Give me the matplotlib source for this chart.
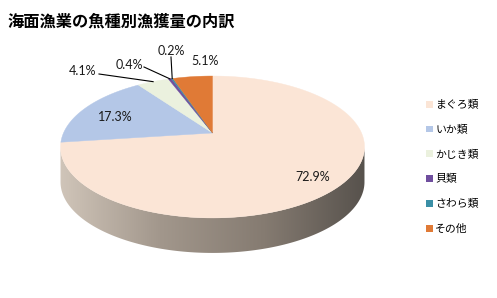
import matplotlib.pyplot as plt
import numpy as np
from matplotlib.patches import Polygon, Patch
from matplotlib.colors import LinearSegmentedColormap

# 海面漁業の魚種別漁獲量の内訳 (%)
categories = ["まぐろ類", "いか類", "かじき類", "貝類", "さわら類", "その他"]
shares = [72.9, 17.3, 4.1, 0.4, 0.2, 5.1]
labels = ["72.9%", "17.3%", "4.1%", "0.4%", "0.2%", "5.1%"]
colors = ["#fbe5d6", "#b4c7e7", "#ebf1de", "#6f4e9e", "#3a8fa6", "#e07a36"]

# layout of the 3D pie in pixels, with a little perspective (k)
cx, cy, A, B, k, depth = 212.5, 133, 149, 68.2, 0.197, 35
label_pos = [(313, 177), (115, 117), (83, 71), (129, 65), (171, 51), (205, 61)]
leader_start = [None, None, (99, 74), (144, 67), (171, 57), None]

plt.rcParams['font.family'] = ['Noto Sans CJK JP', 'DejaVu Sans']

fig = plt.figure(figsize=(4.97, 2.98), dpi=100)
ax = fig.add_axes([0, 0, 1, 1])


def pt(theta, dy=0.0, r=1.0):
    # angle clockwise from 12 o'clock -> pixel position on the tilted disc
    X, Z = r * np.sin(theta), r * np.cos(theta)
    w = 1 + k * Z
    return (cx + A * X / w, cy - B * Z / w + dy)


# side of the cylinder (visible front part), shaded gradient
th = np.linspace(np.arccos(-k), 2 * np.pi - np.arccos(-k), 200)
top = [pt(t) for t in th]
bot = [pt(t, depth) for t in th[::-1]]
side = Polygon(top + bot, closed=True, facecolor="none", edgecolor="none")
ax.add_patch(side)
cmap = LinearSegmentedColormap.from_list("side", ["#d2c7bb", "#a2978c", "#857b71", "#55504b"])
grad = np.linspace(0, 1, 256).reshape(1, -1)
im = ax.imshow(grad, cmap=cmap, extent=(55, 370, 260, 130), aspect="auto", zorder=1)
im.set_clip_path(side)

# top faces
bounds = np.concatenate([[0], np.cumsum(shares)]) / 100 * 2 * np.pi
for i, c in enumerate(colors):
    t = np.linspace(bounds[i], bounds[i + 1], max(3, int(200 * shares[i] / 100) + 2))
    poly = [(cx, cy)] + [pt(a) for a in t]
    ax.add_patch(Polygon(poly, closed=True, facecolor=c, edgecolor=c, linewidth=0.3, zorder=2))

# data labels and leader lines
for i, lab in enumerate(labels):
    x, y = label_pos[i]
    ax.text(x, y, lab, ha="center", va="center", fontsize=9, family=["Lato", "DejaVu Sans"],
            color="#1a1a1a", zorder=4)
    if leader_start[i] is not None:
        ex, ey = pt((bounds[i] + bounds[i + 1]) / 2)
        sx, sy = leader_start[i]
        ax.plot([sx, ex], [sy, ey], color="black", linewidth=0.8, zorder=5)

# legend
handles = [Patch(facecolor=c, edgecolor="none") for c in colors]
ax.legend(handles, categories, loc="upper left", bbox_to_anchor=(426, 100),
          bbox_transform=ax.transData, frameon=False, fontsize=7.8,
          handlelength=0.6, handleheight=0.6, handletextpad=0.25,
          labelspacing=1.35, borderpad=0, borderaxespad=0)

ax.text(8, 21, "海面漁業の魚種別漁獲量の内訳", ha="left", va="center",
        fontsize=11.7, fontweight="bold", color="black")

ax.set_xlim(0, 497)
ax.set_ylim(298, 0)
ax.axis("off")

fig.savefig("out.png", dpi=100)
